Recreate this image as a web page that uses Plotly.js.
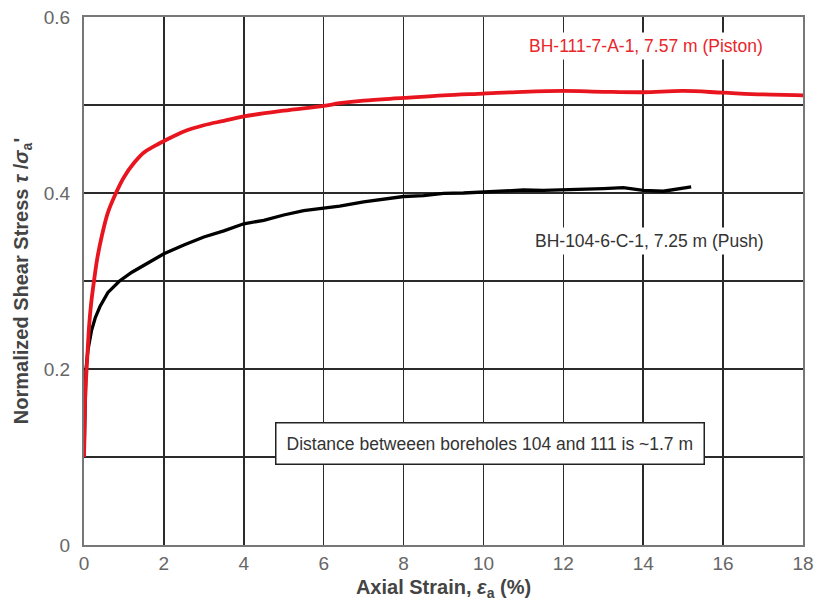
<!DOCTYPE html>
<html>
<head>
<meta charset="utf-8">
<script src="https://cdn.plot.ly/plotly-3.0.1.min.js"></script>
<style>html,body{margin:0;padding:0;background:#fff}#chart{width:814px;height:606px}</style>
</head>
<body>
<div id="chart"></div>
<script>
// Red: BH-111-7-A-1 (Piston)
var pistonStrain = [0, 0.01, 0.02, 0.04, 0.066, 0.1, 0.13, 0.18, 0.25, 0.33, 0.45, 0.6, 0.8, 1.0, 1.25, 1.5, 1.75, 2.0, 2.5, 3.0, 3.5, 4.0, 5.0, 6.0, 6.4, 7.0, 8.0, 9.0, 10.0, 11.0, 12.0, 13.0, 14.0, 15.0, 16.0, 17.0, 18.0, 18.3];
var pistonStress = [0.1, 0.12, 0.15, 0.18, 0.2, 0.228, 0.25, 0.275, 0.3, 0.325, 0.352, 0.378, 0.4, 0.418, 0.434, 0.446, 0.453, 0.459, 0.47, 0.477, 0.482, 0.487, 0.4935, 0.499, 0.502, 0.505, 0.508, 0.511, 0.513, 0.515, 0.516, 0.515, 0.5145, 0.516, 0.514, 0.512, 0.511, 0.51];
// Black: BH-104-6-C-1 (Push)
var pushStrain = [0, 0.02, 0.05, 0.1, 0.15, 0.19, 0.28, 0.4, 0.6, 0.89, 1.2, 1.6, 2.0, 2.5, 3.0, 3.5, 4.0, 4.5, 5.0, 5.5, 6.0, 6.4, 7.0, 7.5, 8.0, 8.5, 9.0, 9.5, 10.0, 10.5, 11.0, 11.5, 12.0, 12.5, 13.0, 13.5, 14.0, 14.5, 15.0, 15.2];
var pushStress = [0.1, 0.16, 0.2, 0.222, 0.235, 0.244, 0.258, 0.271, 0.287, 0.3, 0.31, 0.321, 0.331, 0.341, 0.35, 0.357, 0.365, 0.369, 0.375, 0.38, 0.383, 0.385, 0.39, 0.393, 0.396, 0.397, 0.3996, 0.4, 0.401, 0.402, 0.4034, 0.403, 0.4034, 0.404, 0.405, 0.406, 0.403, 0.402, 0.405, 0.407];

var yTickVals = [0, 0.2, 0.4, 0.6];
var yTickText = ['0', '0.2', '0.4', '0.6'];
var yMinorVals = [0.1, 0.3, 0.5];
var xTickVals = [0, 2, 4, 6, 8, 10, 12, 14, 16, 18];
var xTickText = ['0', '2', '4', '6', '8', '10', '12', '14', '16', '18'];

var labelPiston = 'BH-111-7-A-1, 7.57 m (Piston)';
var labelPush = 'BH-104-6-C-1, 7.25 m (Push)';
var noteText = 'Distance betweeen boreholes 104 and 111 is ~1.7 m';

var FONT = 'Liberation Sans, Arial, sans-serif';

var traces = [
  {x: pushStrain, y: pushStress, mode: 'lines', line: {color: '#000000', width: 3.3}, showlegend: false},
  {x: pistonStrain, y: pistonStress, mode: 'lines', line: {color: '#e8141e', width: 3.8, shape: 'spline'}, showlegend: false}
];

var layout = {
  width: 814, height: 606,
  margin: {l: 84, r: 11, t: 17, b: 61},
  paper_bgcolor: '#ffffff', plot_bgcolor: '#ffffff',
  font: {family: FONT, color: '#555555'},
  xaxis: {
    range: [0, 18], tickvals: xTickVals, ticktext: xTickText,
    showgrid: true, gridcolor: '#2a2a2a', gridwidth: 1.6,
    showline: true, linecolor: '#777777', linewidth: 2, mirror: true,
    zeroline: false, ticks: '', tickfont: {size: 19, color: '#666666'},
    title: {text: '<b>Axial Strain, <i>ε</i><sub>a</sub> (%)</b>', font: {size: 20, color: '#444444'}, standoff: 7}
  },
  yaxis: {
    range: [0, 0.6], tickvals: yTickVals, ticktext: yTickText,
    showgrid: true, gridcolor: '#2a2a2a', gridwidth: 1.6,
    minor: {tickvals: yMinorVals, showgrid: true, gridcolor: '#2a2a2a', gridwidth: 1.6, ticks: ''},
    showline: true, linecolor: '#777777', linewidth: 2, mirror: true,
    zeroline: false, ticks: '', ticklabelstandoff: 8, tickfont: {size: 19, color: '#666666'},
    title: {text: "<b>Normalized Shear Stress <i>τ</i> /<i>σ</i><sub>a</sub>'</b>", font: {size: 20, color: '#444444'}, standoff: 10}
  },
  annotations: [
    {x: 14.07, y: 0.567, xref: 'x', yref: 'y', text: labelPiston, showarrow: false,
     font: {size: 17.5, color: '#e8262b', family: FONT}, bgcolor: '#ffffff', borderpad: 3},
    {x: 14.15, y: 0.345, xref: 'x', yref: 'y', text: labelPush, showarrow: false,
     font: {size: 17.5, color: '#333333', family: FONT}, bgcolor: '#ffffff', borderpad: 3},
    {x: 10.17, y: 0.1148, xref: 'x', yref: 'y', text: noteText, showarrow: false,
     font: {size: 17.5, color: '#333333', family: FONT}, bgcolor: '#ffffff',
     bordercolor: '#222222', borderwidth: 1.5, borderpad: 10}
  ]
};

Plotly.newPlot('chart', traces, layout, {displayModeBar: false, staticPlot: true});
</script>
</body>
</html>
